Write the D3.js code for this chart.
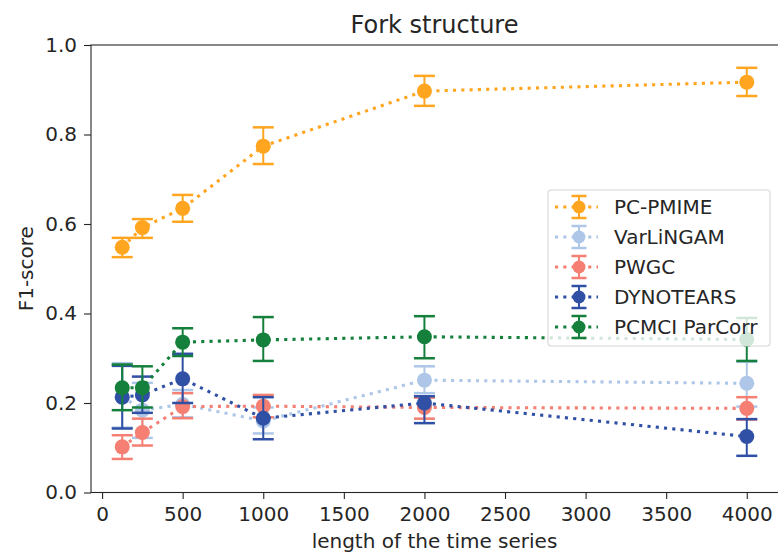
<!DOCTYPE html>
<html>
<head>
<meta charset="utf-8">
<script src="https://cdn.jsdelivr.net/npm/d3@7"></script>
<style>
  body { margin: 0; background: #fff; }
  text { font-family: "DejaVu Sans", sans-serif; fill: #262626; }
</style>
</head>
<body>
<svg id="chart" width="778" height="554"></svg>
<script>
// series lengths on the x axis
const lengths = [125, 250, 500, 1000, 2000, 4000];
const xTicks = [0, 500, 1000, 1500, 2000, 2500, 3000, 3500, 4000];
const yTicks = [0.0, 0.2, 0.4, 0.6, 0.8, 1.0];

// mean F1 and error-bar bounds
const pcpmime     = [0.548, 0.592, 0.635, 0.774, 0.897, 0.917];
const pcpmimeLo   = [0.526, 0.569, 0.605, 0.734, 0.864, 0.886];
const pcpmimeHi   = [0.569, 0.611, 0.665, 0.816, 0.931, 0.949];

const varlingam   = [0.215, 0.184, 0.197, 0.160, 0.251, 0.244];
const varlingamLo = [0.145, 0.122, 0.168, 0.132, 0.222, 0.192];
const varlingamHi = [0.289, 0.245, 0.229, 0.190, 0.282, 0.292];

const pwgc        = [0.102, 0.134, 0.192, 0.193, 0.190, 0.188];
const pwgcLo      = [0.075, 0.105, 0.166, 0.168, 0.165, 0.163];
const pwgcHi      = [0.128, 0.165, 0.222, 0.218, 0.212, 0.213];

const dynotears   = [0.213, 0.218, 0.254, 0.166, 0.200, 0.125];
const dynotearsLo = [0.143, 0.178, 0.200, 0.119, 0.155, 0.082];
const dynotearsHi = [0.283, 0.259, 0.310, 0.213, 0.215, 0.164];

const pcmci       = [0.234, 0.234, 0.336, 0.341, 0.348, 0.342];
const pcmciLo     = [0.184, 0.190, 0.305, 0.294, 0.300, 0.294];
const pcmciHi     = [0.286, 0.282, 0.367, 0.392, 0.394, 0.390];

const series = [
  { name: "PC-PMIME",      color: "#ffa51f", mean: pcpmime,   lo: pcpmimeLo,   hi: pcpmimeHi },
  { name: "VarLiNGAM",     color: "#aec7e8", mean: varlingam, lo: varlingamLo, hi: varlingamHi },
  { name: "PWGC",          color: "#f47f72", mean: pwgc,      lo: pwgcLo,      hi: pwgcHi },
  { name: "DYNOTEARS",     color: "#3050a6", mean: dynotears, lo: dynotearsLo, hi: dynotearsHi },
  { name: "PCMCI ParCorr", color: "#14803c", mean: pcmci,     lo: pcmciLo,     hi: pcmciHi }
];

const svg = d3.select("#chart");
const plotL = 91, plotR = 778, plotT = 45, plotB = 492.5;

const x = d3.scaleLinear().domain([-68.75, 4193.75]).range([plotL, plotR]);
const y = d3.scaleLinear().domain([0, 1]).range([plotB, plotT]);

// axes
const xAxis = svg.append("g")
  .attr("transform", `translate(0,${plotB})`)
  .call(d3.axisBottom(x).tickValues(xTicks).tickSize(6.5).tickPadding(8).tickFormat(d3.format("d")));
const yAxis = svg.append("g")
  .attr("transform", `translate(${plotL},0)`)
  .call(d3.axisLeft(y).tickValues(yTicks).tickSize(7).tickPadding(7).tickFormat(d3.format(".1f")));

[xAxis, yAxis].forEach(g => {
  g.select(".domain").remove();
  g.selectAll("line").attr("stroke", "#262626").attr("stroke-width", 1.1);
  g.selectAll("text").style("font-size", "20px").attr("fill", "#262626");
});

// spines
svg.append("rect")
  .attr("x", plotL).attr("y", plotT)
  .attr("width", plotR - plotL + 2).attr("height", plotB - plotT)
  .attr("fill", "none").attr("stroke", "#262626").attr("stroke-width", 1.1);

const capW = 10.5;
const line = d3.line().x(d => x(d[0])).y(d => y(d[1]));

series.forEach(s => {
  const g = svg.append("g");
  const pts = lengths.map((l, i) => [l, s.mean[i]]);
  g.append("path")
    .attr("d", line(pts))
    .attr("fill", "none")
    .attr("stroke", s.color)
    .attr("stroke-width", 3.1)
    .attr("stroke-dasharray", "3.1,5.2");
  lengths.forEach((l, i) => {
    const cx = x(l);
    g.append("line")
      .attr("x1", cx).attr("x2", cx)
      .attr("y1", y(s.lo[i])).attr("y2", y(s.hi[i]))
      .attr("stroke", s.color).attr("stroke-width", 2);
    [s.lo[i], s.hi[i]].forEach(v => {
      g.append("line")
        .attr("x1", cx - capW).attr("x2", cx + capW)
        .attr("y1", y(v)).attr("y2", y(v))
        .attr("stroke", s.color).attr("stroke-width", 2.5);
    });
    g.append("circle")
      .attr("cx", cx).attr("cy", y(s.mean[i]))
      .attr("r", 7.5).attr("fill", s.color);
  });
});

// title and labels
svg.append("text")
  .attr("x", (plotL + plotR) / 2).attr("y", 33)
  .attr("text-anchor", "middle")
  .style("font-size", "24px")
  .text("Fork structure");

svg.append("text")
  .attr("x", (plotL + plotR) / 2).attr("y", 548)
  .attr("text-anchor", "middle")
  .style("font-size", "20px")
  .text("length of the time series");

svg.append("text")
  .attr("transform", `translate(33,${(plotT + plotB) / 2}) rotate(-90)`)
  .attr("text-anchor", "middle")
  .style("font-size", "20px")
  .text("F1-score");

// legend
const lg = svg.append("g").attr("transform", "translate(548,190)");
lg.append("rect")
  .attr("x", 0).attr("y", 0).attr("width", 222).attr("height", 156)
  .attr("rx", 3)
  .attr("fill", "#fff").attr("fill-opacity", 0.8)
  .attr("stroke", "#d6d6d6").attr("stroke-width", 1.1);

series.forEach((s, i) => {
  const ly = 17 + i * 30;
  const item = lg.append("g").attr("transform", `translate(0,${ly})`);
  item.append("line")
    .attr("x1", 7).attr("x2", 50).attr("y1", 0).attr("y2", 0)
    .attr("stroke", s.color).attr("stroke-width", 3.1).attr("stroke-dasharray", "3.1,5.2");
  item.append("line")
    .attr("x1", 31).attr("x2", 31).attr("y1", -11).attr("y2", 11)
    .attr("stroke", s.color).attr("stroke-width", 2);
  [-11, 11].forEach(dy => {
    item.append("line")
      .attr("x1", 31 - 7.5).attr("x2", 31 + 7.5).attr("y1", dy).attr("y2", dy)
      .attr("stroke", s.color).attr("stroke-width", 2.5);
  });
  item.append("circle").attr("cx", 31).attr("cy", 0).attr("r", 6.5).attr("fill", s.color);
  item.append("text")
    .attr("x", 66).attr("y", 0).attr("dy", "0.35em")
    .style("font-size", "20px")
    .text(s.name);
});
</script>
</body>
</html>
